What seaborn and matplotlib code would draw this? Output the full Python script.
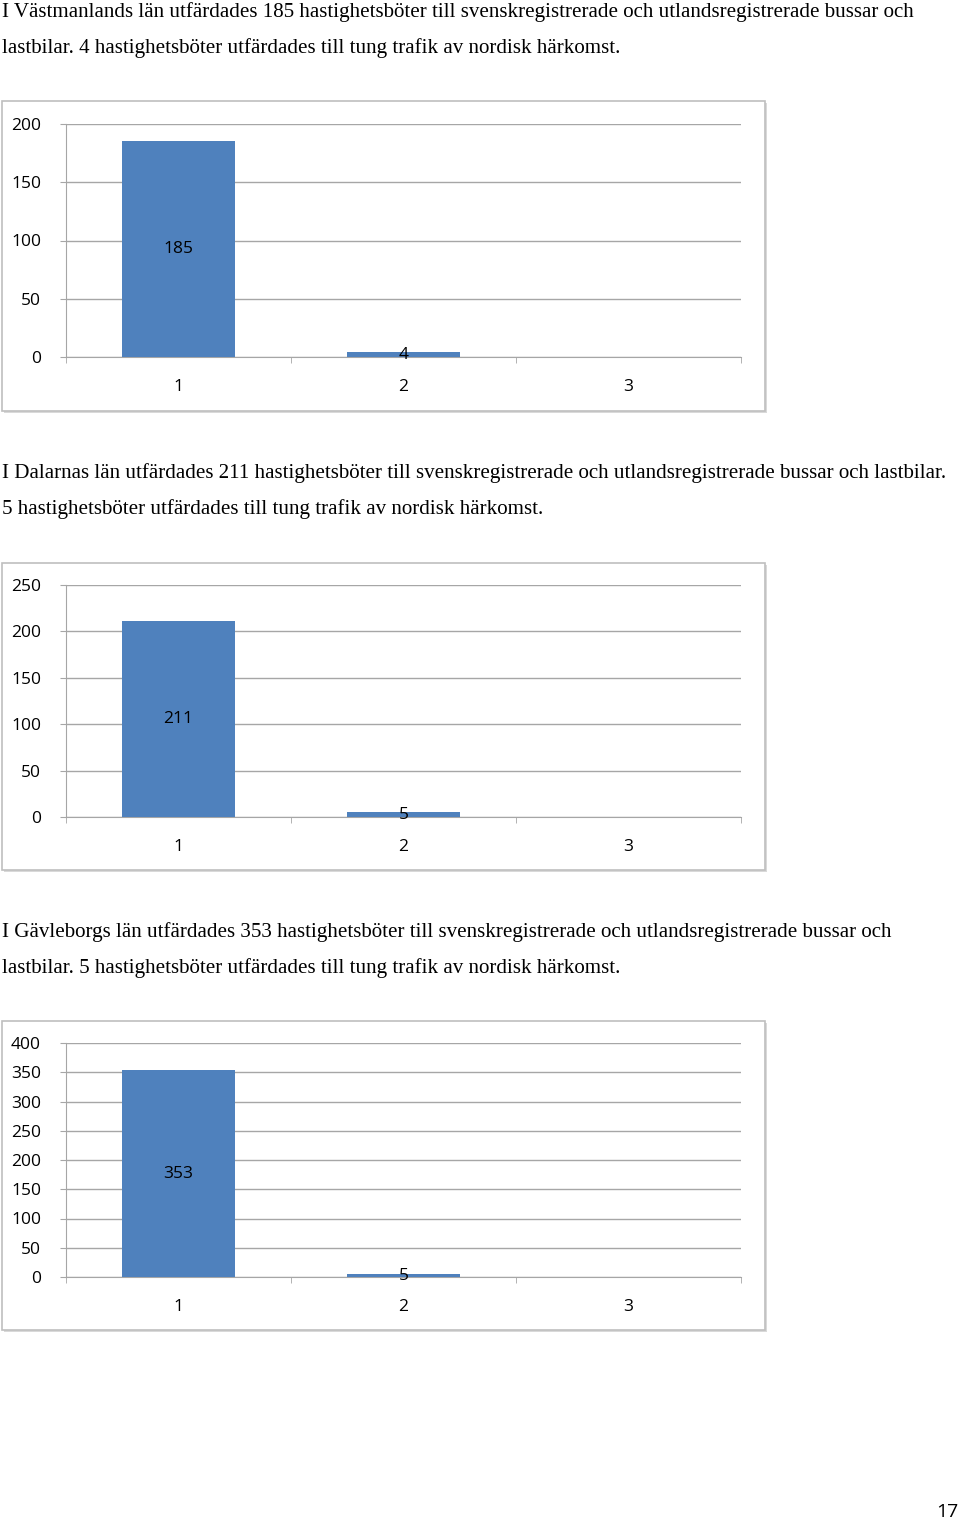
import matplotlib
matplotlib.use("Agg")
import matplotlib.pyplot as plt
import numpy as np
import pandas as pd
import seaborn as sns
from matplotlib.patches import Rectangle

W, H = 960, 1521
BAR_COLOR = "#4f81bd"
GRID_COLOR = "#a6a6a6"

categories = ["1", "2", "3"]
vastmanland = [185, 4, np.nan]
dalarna = [211, 5, np.nan]
gavleborg = [353, 5, np.nan]

texts = [
    "I Västmanlands län utfärdades 185 hastighetsböter till svenskregistrerade och utlandsregistrerade bussar och\n"
    "lastbilar. 4 hastighetsböter utfärdades till tung trafik av nordisk härkomst.",
    "I Dalarnas län utfärdades 211 hastighetsböter till svenskregistrerade och utlandsregistrerade bussar och lastbilar.\n"
    "5 hastighetsböter utfärdades till tung trafik av nordisk härkomst.",
    "I Gävleborgs län utfärdades 353 hastighetsböter till svenskregistrerade och utlandsregistrerade bussar och\n"
    "lastbilar. 5 hastighetsböter utfärdades till tung trafik av nordisk härkomst.",
]

# (text top, box top, box bottom, plot top, plot bottom, ymax, ystep)
layouts = [
    (2, 101, 411, 124, 357, 200, 50),
    (463, 563, 870, 585, 817, 250, 50),
    (922, 1021, 1330, 1043, 1277, 400, 50),
]
series = [vastmanland, dalarna, gavleborg]

fig = plt.figure(figsize=(W / 100, H / 100), dpi=100)
sans = "Open Sans"

for text, (ty, bt, bb, pt, pb, ymax, ystep), vals in zip(texts, layouts, series):
    fig.text(2 / W, 1 - ty / H, text, family="Liberation Serif", fontsize=15.1,
             va="top", ha="left", linespacing=2.1)
    # chart frame with shadow
    fig.patches.append(Rectangle((4 / W, 1 - (bb + 2) / H), 763 / W, (bb - bt) / H,
                                 transform=fig.transFigure, facecolor="#d9d9d9",
                                 edgecolor="none", zorder=0))
    fig.patches.append(Rectangle((2 / W, 1 - bb / H), 763 / W, (bb - bt) / H,
                                 transform=fig.transFigure, facecolor="white",
                                 edgecolor="#bfbfbf", linewidth=1.2, zorder=0))
    ax = fig.add_axes([66 / W, 1 - pb / H, 675 / W, (pb - pt) / H], zorder=5)
    df = pd.DataFrame({"cat": categories, "value": vals})
    sns.barplot(data=df, x="cat", y="value", order=categories, color=BAR_COLOR,
                width=0.5, saturation=1, ax=ax, zorder=3)
    ax.set_xlim(-0.5, 2.5)
    ax.set_ylim(0, ymax)
    ax.set_yticks(np.arange(0, ymax + 1, ystep))
    ax.yaxis.grid(True, color=GRID_COLOR, linewidth=1)
    ax.set_axisbelow(True)
    ax.set_facecolor("none")
    for s in ["top", "right"]:
        ax.spines[s].set_visible(False)
    ax.spines["left"].set_color(GRID_COLOR)
    ax.spines["bottom"].set_color(GRID_COLOR)
    ax.set_xticks([0, 1, 2])
    ax.set_xticks([-0.5, 0.5, 1.5, 2.5], minor=True)
    ax.tick_params(axis="x", which="major", length=0, pad=16, labelsize=12.5)
    ax.tick_params(axis="x", which="minor", length=4, color=GRID_COLOR)
    ax.tick_params(axis="y", length=4, color=GRID_COLOR, pad=14, labelsize=12.5)
    for lab in ax.get_xticklabels() + ax.get_yticklabels():
        lab.set_family(sans)
    ax.set_xlabel("")
    ax.set_ylabel("")
    for i, v in enumerate(vals):
        if not np.isnan(v):
            ax.text(i, v / 2, f"{int(v)}", ha="center", va="center",
                    family=sans, fontsize=12.5, zorder=5)

fig.text(958 / W, 1 - 1512 / H, "17", family=sans, fontsize=14, ha="right", va="center")
fig.savefig("out.png", dpi=100)
